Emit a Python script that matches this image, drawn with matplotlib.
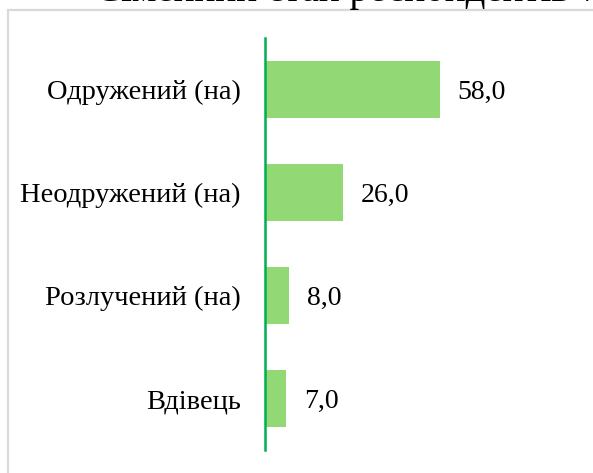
import matplotlib.pyplot as plt
from matplotlib.patches import Rectangle

# data
categories = ['Одружений (на)', 'Неодружений (на)', 'Розлучений (на)', 'Вдівець']
values = [58.0, 26.0, 8.0, 7.0]
title = 'Сімейний стан респондентів %'

W, H = 593, 473
bar_color = '#92D975'
axis_color = '#00B050'

plt.rcParams['font.family'] = ['Liberation Serif', 'DejaVu Serif']

fig = plt.figure(figsize=(W / 100, H / 100), dpi=100)

# chart frame (cut off on right/bottom like the screenshot)
frame = Rectangle((7.5 / W, -0.1), 2.0, 1 - 10.5 / H + 0.1, transform=fig.transFigure,
                  fill=False, edgecolor='#d9d9d9', linewidth=1.6, zorder=0)
fig.patches.append(frame)

# title, mostly outside the visible area
fig.text(95 / W, 1 - 1 / H, title, fontsize=28, ha='left', va='baseline', color='black')

left, right = 264.5 / W, 585 / W
top, bottom = 1 - 38 / H, 1 - 450 / H
ax = fig.add_axes([left, bottom, right - left, top - bottom])

y = list(range(len(categories)))
ax.barh(y, values, height=0.56, color=bar_color)
ax.set_ylim(len(categories) - 0.5, -0.5)
ax.set_xlim(0, (585 - 264.5) / 3.02)

for yi, v in zip(y, values):
    ax.text(v + 6, yi + 0.03, f'{v:.1f}'.replace('.', ','), va='center', ha='left',
            fontsize=20)

ax.set_yticks(y)
ax.set_yticklabels(categories, fontsize=20.5)
ax.tick_params(axis='y', length=0, pad=17)
ax.set_xticks([])

for s in ['top', 'right', 'bottom']:
    ax.spines[s].set_visible(False)
ax.spines['left'].set_color(axis_color)
ax.spines['left'].set_linewidth(1.8)
ax.patch.set_alpha(0)

fig.savefig('out.png', dpi=100)
